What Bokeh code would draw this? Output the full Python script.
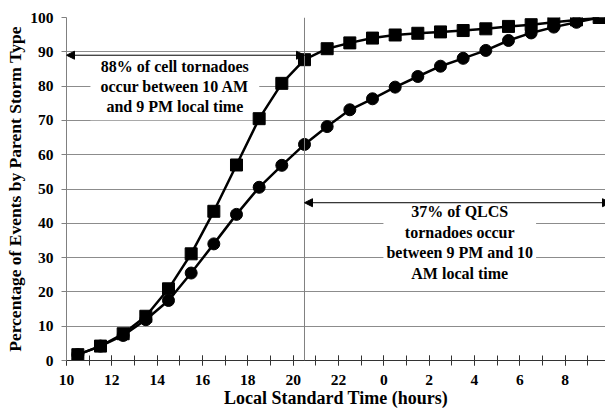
from bokeh.plotting import figure
from bokeh.models import FixedTicker, Span, Arrow, NormalHead, ColumnDataSource
from bokeh.core.properties import value
from bokeh.embed import file_html
from bokeh.resources import INLINE

# ---- data ----
hours = [10.5, 11.5, 12.5, 13.5, 14.5, 15.5, 16.5, 17.5, 18.5, 19.5, 20.5, 21.5,
         22.5, 23.5, 24.5, 25.5, 26.5, 27.5, 28.5, 29.5, 30.5, 31.5, 32.5, 33.5]
cell_pct = [1.7, 4.2, 7.8, 12.9, 20.9, 31.1, 43.5, 57.0, 70.5, 80.8, 87.7, 90.9,
            92.6, 94.0, 94.9, 95.4, 95.8, 96.2, 96.7, 97.4, 97.9, 98.6, 99.3, 100.0]
qlcs_pct = [1.7, 4.2, 7.3, 11.9, 17.5, 25.5, 34.0, 42.6, 50.5, 56.9, 63.0, 68.2,
            73.1, 76.3, 79.7, 82.8, 85.8, 88.1, 90.4, 93.3, 95.5, 97.2, 98.6, 100.0]
tick_hours = [10, 12, 14, 16, 18, 20, 22, 24, 26, 28, 30, 32]
tick_labels = ["10", "12", "14", "16", "18", "20", "22", "0", "2", "4", "6", "8"]
minor_hours = list(range(10, 35))
y_ticks = [0, 10, 20, 30, 40, 50, 60, 70, 80, 90, 100]

divider_hour = 20.5
cell_share_pct = 89
qlcs_share_pct = 46
cell_note = "88% of cell tornadoes\noccur between 10 AM\nand 9 PM local time"
qlcs_note = "37% of QLCS\ntornadoes occur\nbetween 9 PM and 10\nAM local time"

FONT = "Liberation Serif"

p = figure(frame_width=539, frame_height=343, x_range=(10, 33.78), y_range=(0, 100),
           output_backend="svg", toolbar_location=None,
           min_border_left=66, min_border_top=17, min_border_right=0, min_border_bottom=50)
p.outline_line_color = None
p.background_fill_color = "white"
p.border_fill_color = "white"

# axes
p.xaxis.ticker = FixedTicker(ticks=tick_hours, minor_ticks=minor_hours)
p.xaxis.major_label_overrides = {h: l for h, l in zip(tick_hours, tick_labels)}
p.yaxis.ticker = FixedTicker(ticks=y_ticks, minor_ticks=[])
for ax in (p.xaxis[0], p.yaxis[0]):
    ax.major_label_text_font = FONT
    ax.major_label_text_font_style = "bold"
    ax.major_label_text_font_size = "15.5px"
    ax.major_label_text_color = "black"
    ax.axis_label_text_font = FONT
    ax.axis_label_text_font_style = "bold"
    ax.axis_label_text_color = "black"

p.xaxis.axis_label = "Local Standard Time (hours)"
p.xaxis.axis_label_text_font_size = "18px"
p.xaxis.axis_line_color = "#333333"
p.xaxis.major_tick_line_color = "#333333"
p.xaxis.minor_tick_line_color = "#333333"
p.xaxis.major_tick_in = 5
p.xaxis.major_tick_out = 5
p.xaxis.minor_tick_in = 5
p.xaxis.minor_tick_out = 5
p.xaxis.major_label_standoff = 9
p.xaxis.axis_label_standoff = 0

p.yaxis.axis_label = "Percentage of Events by Parent Storm Type"
p.yaxis.axis_label_text_font_size = "17.5px"
p.yaxis.axis_line_color = "#808080"
p.yaxis.major_tick_line_color = "#808080"
p.yaxis.major_tick_in = 0
p.yaxis.major_tick_out = 5
p.yaxis.major_label_standoff = 8
p.yaxis.axis_label_standoff = 2

p.xgrid.grid_line_color = None
p.ygrid.grid_line_color = "#8c8c8c"
p.ygrid.grid_line_width = 1

# annotation text boxes (white background hides gridlines, drawn below the series)
p.text(x=[14.78], y=[79.6], text=[cell_note], text_font=value(FONT),
       text_font_style="bold", text_font_size="16px", text_align="center",
       text_baseline="middle", text_line_height=1.2, text_color="black",
       background_fill_color="white", padding=dict(left=10, right=10, top=3, bottom=5))
p.text(x=[27.35], y=[34.4], text=[qlcs_note], text_font=value(FONT),
       text_font_style="bold", text_font_size="16px", text_align="center",
       text_baseline="middle", text_line_height=1.2, text_color="black",
       background_fill_color="white", padding=dict(left=3, right=3, top=2, bottom=2))

# divider line
p.add_layout(Span(location=divider_hour, dimension="height", line_color="#808080", line_width=1))

# series
src = ColumnDataSource(dict(h=hours, cell=cell_pct, qlcs=qlcs_pct))
p.line("h", "qlcs", source=src, line_color="black", line_width=2.5)
p.scatter("h", "qlcs", source=src, marker="circle", size=12, fill_color="black", line_color="black")
p.line("h", "cell", source=src, line_color="black", line_width=2.5)
p.scatter("h", "cell", source=src, marker="square", size=12, fill_color="black", line_color="black")

# arrows
p.add_layout(Arrow(x_start=divider_hour, y_start=cell_share_pct, x_end=10, y_end=cell_share_pct,
                   line_color="black", line_width=1,
                   end=NormalHead(size=8, fill_color="black", line_color="black"),
                   start=NormalHead(size=8, fill_color="black", line_color="black")))
p.add_layout(Arrow(x_start=divider_hour, y_start=qlcs_share_pct, x_end=34, y_end=qlcs_share_pct,
                   line_color="black", line_width=1,
                   end=NormalHead(size=8, fill_color="black", line_color="black"),
                   start=NormalHead(size=8, fill_color="black", line_color="black")))

open("out.html", "w").write(file_html(p, INLINE))
